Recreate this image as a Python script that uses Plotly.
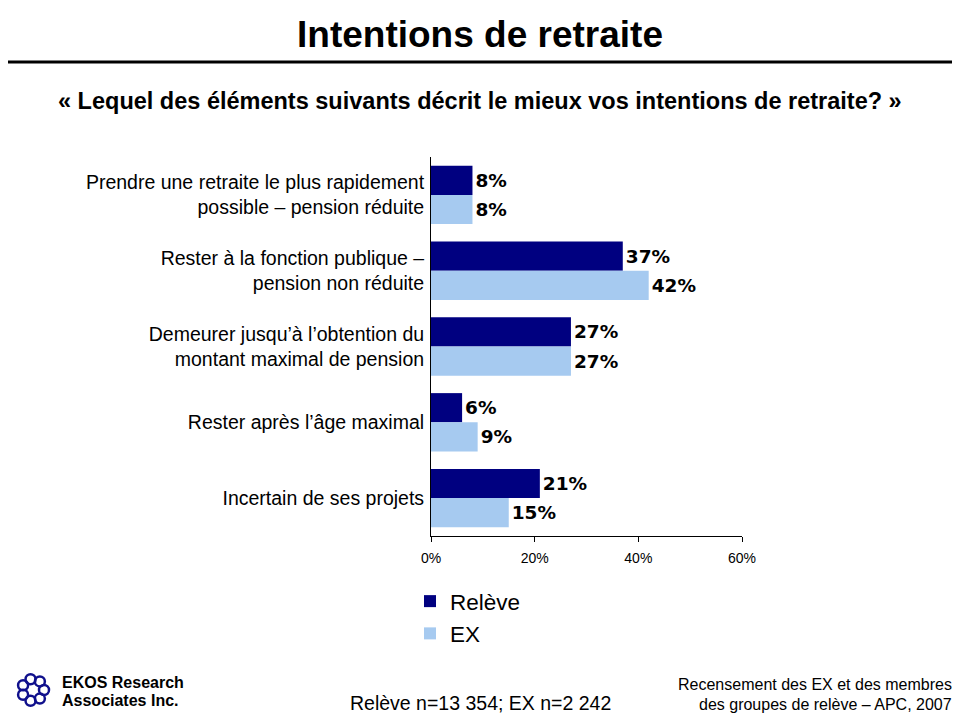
import math
import plotly.graph_objects as go

categories = [
    "Prendre une retraite le plus rapidement<br>possible – pension réduite",
    "Rester à la fonction publique –<br>pension non réduite",
    "Demeurer jusqu’à l’obtention du<br>montant maximal de pension",
    "Rester après l’âge maximal",
    "Incertain de ses projets",
]
releve = [8, 37, 27, 6, 21]
ex = [8, 42, 27, 9, 15]
series_names = ["Relève", "EX"]
tick_vals = [0, 20, 40, 60]
tick_text = ["0%", "20%", "40%", "60%"]

NAVY = "#000080"
LIGHT = "#A6CAF0"
FONT = "Liberation Sans, Arial"

# page offset of the figure inside the browser window (body margin)
OFF = 8
W, H = 960 - OFF, 720 - OFF
# target plot-area edges in window pixels
PL, PR, PT, PB = 431, 742, 157, 536
L, R, T, B = PL - OFF, 960 - PR, PT - OFF, 720 - PB

fig = go.Figure()
for name, vals, col in [(series_names[0], releve, NAVY), (series_names[1], ex, LIGHT)]:
    fig.add_trace(go.Bar(
        y=categories, x=vals, orientation="h", name=name,
        marker=dict(color=col, line=dict(width=0)),
        text=[f"{v}%" for v in vals], textposition="outside",
        textfont=dict(family="DejaVu Sans", size=18.5, color="black", weight="bold"),
        cliponaxis=False,
    ))

fig.update_layout(
    width=W, height=H,
    margin=dict(l=L, r=R, t=T, b=B, autoexpand=False),
    paper_bgcolor="white", plot_bgcolor="white",
    barmode="group", bargap=0.23, bargroupgap=0,
    font=dict(family=FONT, color="black"),
    showlegend=True,
    xaxis=dict(
        range=[0, 60], tickvals=tick_vals, ticktext=tick_text,
        showgrid=False, zeroline=False, showline=True, linecolor="black", linewidth=1,
        ticks="outside", ticklen=5, tickcolor="black", ticklabelstandoff=4,
        tickfont=dict(size=14, family=FONT),
    ),
    yaxis=dict(
        autorange="reversed", showgrid=False, zeroline=False,
        showline=True, linecolor="black", linewidth=1,
        ticks="", ticklabelstandoff=2,
        tickfont=dict(size=19.5, family=FONT),
    ),
)


def px_x(px):
    return (px - OFF - L) / (W - L - R)


def px_y(py):
    return (H - B - (py - OFF)) / (H - T - B)


fig.update_layout(legend=dict(
    x=px_x(410), y=px_y(580), xanchor="left", yanchor="top",
    orientation="v", traceorder="normal",
    font=dict(family=FONT, size=22.5),
    itemsizing="constant", tracegroupgap=0,
))

texts = [
    # text, x, y (window px), xanchor, size, bold
    ("Intentions de retraite", 480, 35, "center", 37, True),
    ("« Lequel des éléments suivants décrit le mieux vos intentions de retraite? »", 480, 101, "center", 23.5, True),
    ("Relève n=13 354; EX n=2 242", 480, 703, "center", 19.5, False),
    ("Recensement des EX et des membres", 954, 684, "right", 16, False),
    ("des groupes de relève – APC, 2007", 954, 704, "right", 16, False),
    ("EKOS Research", 60, 682, "left", 16, True),
    ("Associates Inc.", 60, 700, "left", 16, True),
]
annotations = []
for t, x, y, xa, size, bold in texts:
    annotations.append(dict(
        text=f"<b>{t}</b>" if bold else t,
        x=px_x(x), y=px_y(y), xref="paper", yref="paper",
        xanchor=xa, yanchor="middle", showarrow=False,
        font=dict(size=size, family=FONT, color="black"),
    ))
fig.update_layout(annotations=annotations)

shapes = [
    dict(type="line", xref="paper", yref="paper", x0=px_x(0), x1=px_x(960), y0=px_y(62), y1=px_y(62),
         line=dict(color="black", width=3)),
]
# simple logo: ring of small swirls
cx, cy, rr = 33, 690, 11
for i in range(7):
    ang = 2 * math.pi * i / 7
    x = cx + rr * math.cos(ang)
    y = cy + rr * math.sin(ang)
    shapes.append(dict(type="circle", xref="paper", yref="paper",
                       x0=px_x(x - 5), x1=px_x(x + 5), y0=px_y(y + 5), y1=px_y(y - 5),
                       line=dict(color="#10108C", width=2.5), fillcolor="rgba(0,0,0,0)"))
fig.update_layout(shapes=shapes)

fig.write_html("out.html")
